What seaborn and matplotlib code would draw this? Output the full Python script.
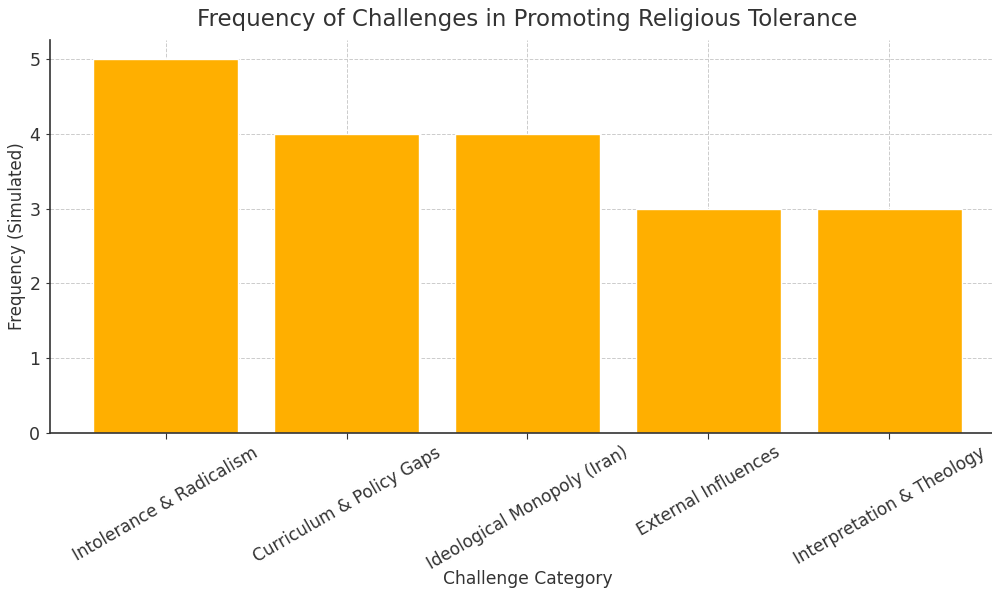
import matplotlib
matplotlib.use("Agg")
import matplotlib.pyplot as plt
import seaborn as sns
import pandas as pd

categories = [
    "Intolerance & Radicalism",
    "Curriculum & Policy Gaps",
    "Ideological Monopoly (Iran)",
    "External Influences",
    "Interpretation & Theology",
]
frequency = [5, 4, 4, 3, 3]

df = pd.DataFrame({"Challenge Category": categories, "Frequency": frequency})

sns.set_style("white")
plt.rcParams["font.family"] = ["DejaVu Sans"]
text_color = "#333333"

fig = plt.figure(figsize=(9.92, 5.9), dpi=100)
ax = fig.add_axes([0.0504, 0.266, 0.9627, 0.666])

sns.barplot(data=df, x="Challenge Category", y="Frequency", color="#FFAF00",
            saturation=1, width=0.8, ax=ax, zorder=2)

ax.set_xlim(-0.64, 4.64)
ax.set_ylim(0, 5.25)
ax.grid(True, linestyle="--", color="#cccccc", linewidth=0.7, zorder=0)
ax.set_axisbelow(True)
for s in ["top", "right"]:
    ax.spines[s].set_visible(False)
for s in ["left", "bottom"]:
    ax.spines[s].set_color("#333333")
    ax.spines[s].set_linewidth(1.2)

ax.tick_params(axis="y", labelsize=12.5, colors=text_color, length=3, left=True, pad=4)
ax.tick_params(axis="x", labelsize=12.2, colors=text_color, length=4, bottom=True)
plt.setp(ax.get_xticklabels(), rotation=30, ha="center")
ax.set_title("Frequency of Challenges in Promoting Religious Tolerance",
             fontsize=16.5, color=text_color, pad=10)
ax.set_xlabel("Challenge Category", fontsize=12.3, color=text_color)
ax.set_ylabel("Frequency (Simulated)", fontsize=12, color=text_color)
ax.xaxis.set_label_coords(0.5, -0.348)
ax.yaxis.set_label_coords(-0.025, 0.5)

fig.savefig("out.png", dpi=100)
